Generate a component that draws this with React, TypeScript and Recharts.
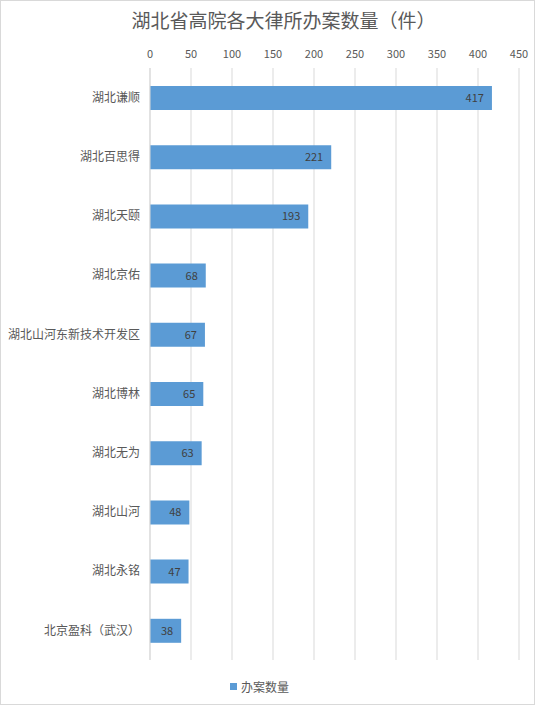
import { BarChart, Bar, XAxis, YAxis, CartesianGrid, Legend, LabelList } from "recharts";

const firms = [
  "湖北谦顺",
  "湖北百思得",
  "湖北天颐",
  "湖北京佑",
  "湖北山河东新技术开发区",
  "湖北博林",
  "湖北无为",
  "湖北山河",
  "湖北永铭",
  "北京盈科（武汉）",
];
const caseCounts = [417, 221, 193, 68, 67, 65, 63, 48, 47, 38];
const xTicks = [0, 50, 100, 150, 200, 250, 300, 350, 400, 450];

const data = firms.map((name, i) => ({ name, value: caseCounts[i] }));

const FONT = '"Noto Sans CJK SC", "Microsoft YaHei", sans-serif';
const BLUE = "#5B9BD5";

function LegendBox() {
  return (
    <div
      style={{
        height: 45,
        boxSizing: "border-box",
        paddingTop: 8,
        display: "flex",
        justifyContent: "center",
        alignItems: "center",
        fontFamily: FONT,
        fontSize: 12,
        color: "#595959",
      }}
    >
      <span style={{ width: 7, height: 7, background: BLUE, display: "inline-block", marginRight: 4 }} />
      办案数量
    </div>
  );
}

export default function App() {
  return (
    <div style={{ position: "relative", width: 535, height: 705, fontFamily: FONT }}>
      <style>{"body{margin:0}"}</style>
      <div
        style={{
          position: "absolute",
          inset: 0,
          border: "1px solid #d9d9d9",
          boxSizing: "border-box",
          pointerEvents: "none",
        }}
      />
      <div
        style={{
          position: "absolute",
          top: 6,
          left: 0,
          width: 535,
          paddingLeft: 32,
          boxSizing: "border-box",
          textAlign: "center",
          fontSize: 19,
          color: "#595959",
        }}
      >
        湖北省高院各大律所办案数量（件）
      </div>
      <BarChart
        width={535}
        height={705}
        data={data}
        layout="vertical"
        margin={{ top: 48, right: 16, bottom: 0, left: 0 }}
        barSize={24}
      >
        <CartesianGrid horizontal={false} stroke="#d9d9d9" />
        <XAxis
          type="number"
          orientation="top"
          domain={[0, 450]}
          ticks={xTicks}
          height={20}
          axisLine={false}
          tickLine={false}
          tickMargin={4}
          tick={{ fontSize: 11, fill: "#595959", fontFamily: FONT }}
        />
        <YAxis
          type="category"
          dataKey="name"
          width={150}
          axisLine={{ stroke: "#d9d9d9" }}
          tickLine={false}
          tickMargin={4}
          interval={0}
          tick={{ fontSize: 12, fill: "#595959", fontFamily: FONT }}
        />
        <Legend verticalAlign="bottom" height={45} content={() => <LegendBox />} />
        <Bar dataKey="value" name="办案数量" fill={BLUE} isAnimationActive={false}>
          <LabelList
            dataKey="value"
            position="insideRight"
            offset={8}
            fill="#404040"
            fontSize={11}
            fontFamily={FONT}
          />
        </Bar>
      </BarChart>
    </div>
  );
}
